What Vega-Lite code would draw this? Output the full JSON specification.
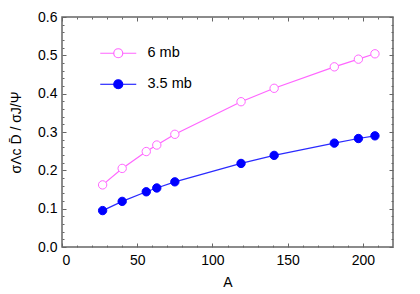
{
  "$schema": "https://vega.github.io/schema/vega-lite/v6.json",
  "width": 331,
  "height": 230,
  "autosize": {"type": "none"},
  "padding": {"left": 62, "top": 17, "right": 27, "bottom": 47},
  "background": "white",
  "config": {
    "font": "Liberation Sans",
    "view": {"stroke": "#666666", "strokeWidth": 1.5},
    "axis": {"labelFont": "Liberation Sans", "titleFont": "Liberation Sans", "labelFontSize": 14, "titleFontSize": 14, "labelColor": "black", "titleColor": "black", "titleFontWeight": "normal", "tickColor": "#666666", "domain": false, "grid": false},
    "legend": {"labelFont": "Liberation Sans", "labelFontSize": 14.5, "labelColor": "black"}
  },
  "data": {
    "values": [
      {"A": 27, "series": "6 mb", "ratio": 0.162},
      {"A": 40, "series": "6 mb", "ratio": 0.205},
      {"A": 56, "series": "6 mb", "ratio": 0.249},
      {"A": 63, "series": "6 mb", "ratio": 0.266},
      {"A": 75, "series": "6 mb", "ratio": 0.294},
      {"A": 119, "series": "6 mb", "ratio": 0.379},
      {"A": 141, "series": "6 mb", "ratio": 0.414},
      {"A": 181, "series": "6 mb", "ratio": 0.470},
      {"A": 197, "series": "6 mb", "ratio": 0.490},
      {"A": 208, "series": "6 mb", "ratio": 0.504},
      {"A": 27, "series": "3.5 mb", "ratio": 0.095},
      {"A": 40, "series": "3.5 mb", "ratio": 0.119},
      {"A": 56, "series": "3.5 mb", "ratio": 0.144},
      {"A": 63, "series": "3.5 mb", "ratio": 0.154},
      {"A": 75, "series": "3.5 mb", "ratio": 0.170},
      {"A": 119, "series": "3.5 mb", "ratio": 0.218},
      {"A": 141, "series": "3.5 mb", "ratio": 0.239},
      {"A": 181, "series": "3.5 mb", "ratio": 0.271},
      {"A": 197, "series": "3.5 mb", "ratio": 0.283},
      {"A": 208, "series": "3.5 mb", "ratio": 0.290}
    ]
  },
  "resolve": {"axis": {"x": "independent", "y": "independent"}, "legend": {"stroke": "independent", "fill": "independent", "color": "independent"}},
  "layer": [
    {
      "mark": {"type": "line", "strokeWidth": 1.2},
      "encoding": {
        "x": {"field": "A", "type": "quantitative", "scale": {"domain": [0, 220], "nice": false, "zero": false},
              "axis": {"orient": "bottom", "values": [0, 50, 100, 150, 200], "tickSize": -4, "labelPadding": 10, "title": "A", "titlePadding": 8}},
        "y": {"field": "ratio", "type": "quantitative", "scale": {"domain": [0, 0.6], "nice": false},
              "axis": {"orient": "left", "values": [0, 0.1, 0.2, 0.3, 0.4, 0.5, 0.6], "format": ".1f", "tickSize": -4, "labelPadding": 9, "title": "σΛc D̄ / σJ/Ψ", "titlePadding": 14}},
        "color": {"field": "series", "type": "nominal", "scale": {"domain": ["6 mb", "3.5 mb"], "range": ["#ff66ff", "#2a2aff"]}, "legend": null}
      }
    },
    {
      "mark": {"type": "point", "filled": false, "size": 70, "strokeWidth": 1, "opacity": 1},
      "encoding": {
        "x": {"field": "A", "type": "quantitative",
              "axis": {"orient": "bottom", "values": [10, 20, 30, 40, 60, 70, 80, 90, 110, 120, 130, 140, 160, 170, 180, 190, 210], "tickSize": -2, "labels": false, "title": null}},
        "y": {"field": "ratio", "type": "quantitative",
              "axis": {"orient": "left", "values": [0.02, 0.04, 0.06, 0.08, 0.12, 0.14, 0.16, 0.18, 0.22, 0.24, 0.26, 0.28, 0.32, 0.34, 0.36, 0.38, 0.42, 0.44, 0.46, 0.48, 0.52, 0.54, 0.56, 0.58], "tickSize": -2, "labels": false, "title": null}},
        "stroke": {"field": "series", "type": "nominal", "scale": {"domain": ["6 mb", "3.5 mb"], "range": ["#ff66ff", "#0000ff"]},
                   "legend": {"orient": "none", "legendX": 49, "legendY": 29, "title": null, "symbolType": "M-4,0H-1M1,0H4M1,0A1,1 0 1,1 -1,0A1,1 0 1,1 1,0Z", "symbolSize": 81, "symbolStrokeWidth": 1.2, "labelOffset": 22, "rowPadding": 15}},
        "fill": {"field": "series", "type": "nominal", "scale": {"domain": ["6 mb", "3.5 mb"], "range": ["white", "#0000ff"]},
                 "legend": {"orient": "none", "legendX": 49, "legendY": 29, "title": null, "symbolType": "M-4,0H-1M1,0H4M1,0A1,1 0 1,1 -1,0A1,1 0 1,1 1,0Z", "symbolSize": 81, "symbolStrokeWidth": 1.2, "labelOffset": 22, "rowPadding": 15}}
      }
    },
    {
      "mark": {"type": "point", "opacity": 0},
      "encoding": {
        "x": {"field": "A", "type": "quantitative",
              "axis": {"orient": "top", "values": [0, 50, 100, 150, 200], "tickSize": -4, "labels": false, "title": null}},
        "y": {"field": "ratio", "type": "quantitative",
              "axis": {"orient": "right", "values": [0, 0.1, 0.2, 0.3, 0.4, 0.5, 0.6], "tickSize": -4, "labels": false, "title": null}}
      }
    },
    {
      "mark": {"type": "point", "opacity": 0},
      "encoding": {
        "x": {"field": "A", "type": "quantitative",
              "axis": {"orient": "top", "values": [10, 20, 30, 40, 60, 70, 80, 90, 110, 120, 130, 140, 160, 170, 180, 190, 210], "tickSize": -2, "labels": false, "title": null}},
        "y": {"field": "ratio", "type": "quantitative",
              "axis": {"orient": "right", "values": [0.02, 0.04, 0.06, 0.08, 0.12, 0.14, 0.16, 0.18, 0.22, 0.24, 0.26, 0.28, 0.32, 0.34, 0.36, 0.38, 0.42, 0.44, 0.46, 0.48, 0.52, 0.54, 0.56, 0.58], "tickSize": -2, "labels": false, "title": null}}
      }
    }
  ]
}
